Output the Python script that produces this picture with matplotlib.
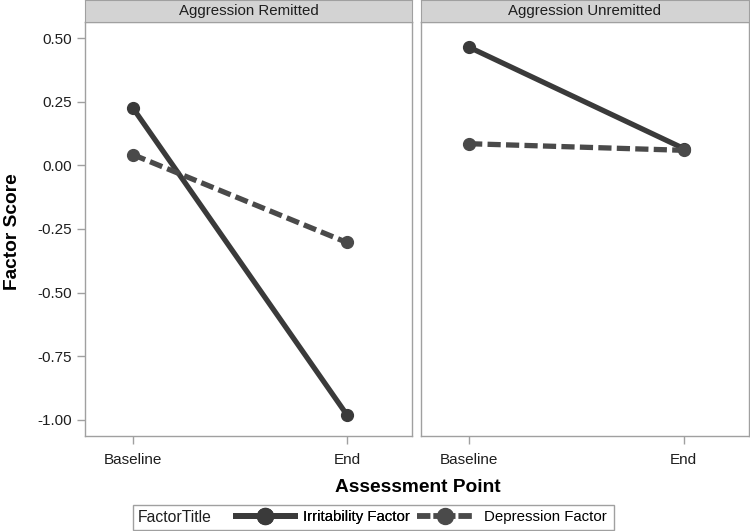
import matplotlib
matplotlib.use("Agg")
import matplotlib.pyplot as plt
from matplotlib.lines import Line2D
from matplotlib.patches import Rectangle

plt.rcParams['font.family'] = ['Liberation Sans', 'DejaVu Sans']

panels = ["Aggression Remitted", "Aggression Unremitted"]
points = ["Baseline", "End"]
irritability = [[0.225, -0.98], [0.464, 0.066]]
depression = [[0.042, -0.303], [0.085, 0.059]]
yticks = [0.50, 0.25, 0.00, -0.25, -0.50, -0.75, -1.00]
factor_title = "FactorTitle"
factor_names = ["Irritability Factor", "Depression Factor"]

W, H = 750, 531
fig = plt.figure(figsize=(7.5, 5.31), dpi=100)

def fr(x0, y0, x1, y1):
    return [x0 / W, (H - y1) / H, (x1 - x0) / W, (y1 - y0) / H]

frame_col = '#a0a0a0'
text_col = '#1e1e1e'
line_col = '#3a3a3a'
dep_col = '#4a4a4a'
dash = (0, (2.5, 1.0))
panel_x = [(85, 412), (421, 749)]
for i, (x0, x1) in enumerate(panel_x):
    ax = fig.add_axes(fr(x0, 22, x1, 436))
    xs = list(range(len(points)))
    ax.plot(xs, irritability[i], color=line_col, lw=3.8, marker='o', ms=8.5,
            solid_capstyle='butt')
    ax.plot(xs, depression[i], color=dep_col, lw=3.8, marker='o', ms=8.5,
            linestyle=dash)
    ax.set_xlim(-0.224, 1.304)
    ax.set_ylim(-1.063, 0.563)
    ax.set_xticks(xs)
    ax.set_xticklabels(points)
    for s in ax.spines.values():
        s.set_color(frame_col)
        s.set_linewidth(1.0)
    ax.tick_params(axis='both', colors=frame_col, labelcolor=text_col,
                   length=6, width=1, labelsize=11)
    ax.tick_params(axis='x', pad=6)
    ax.tick_params(axis='y', pad=3.5)
    if i == 0:
        ax.set_yticks(yticks)
        ax.set_yticklabels([f"{v:.2f}" for v in yticks])
    else:
        ax.set_yticks([])
    # strip
    sax = fig.add_axes(fr(x0, 0, x1, 22))
    sax.set_xticks([]); sax.set_yticks([])
    sax.set_facecolor('#d3d3d3')
    for s in sax.spines.values():
        s.set_color(frame_col)
    sax.text(0.5, 0.5, panels[i], ha='center', va='center', fontsize=10.8,
             color=text_col, transform=sax.transAxes)

fig.text(13 / W, 1 - 232 / H, "Factor Score", rotation=90, ha='center',
         va='center', fontsize=13.8, fontweight='bold', color='black')
fig.text(418 / W, 1 - 487 / H, "Assessment Point", ha='center', va='center',
         fontsize=13.8, fontweight='bold', color='black')

# legend box
fig.patches.append(Rectangle((133 / W, 1 - 530 / H), (614 - 133) / W, 25 / H,
                             transform=fig.transFigure, fill=False,
                             edgecolor=frame_col, lw=1))
fig.text(138 / W, 1 - 517 / H, factor_title, ha='left', va='center',
         fontsize=11.3, color=text_col)
h1 = Line2D([], [], color=line_col, lw=4.2, marker='o', ms=11.5,
            solid_capstyle='butt')
h2 = Line2D([], [], color=dep_col, lw=4.2, marker='o', ms=11.5,
            linestyle=(0, (2.3, 0.5, 3.8, 0.5, 2.3, 10)), dash_capstyle='butt')
leg1 = fig.legend([h1], [factor_names[0]], frameon=False, loc='center left',
                  bbox_to_anchor=(233 / W, 1 - 517 / H), fontsize=10.8,
                  handlelength=4.3, handletextpad=0.35,
                  borderpad=0, borderaxespad=0)
fig.add_artist(leg1)
leg2 = fig.legend([h2], [factor_names[1]], frameon=False, loc='center left',
                  bbox_to_anchor=(417 / W, 1 - 517 / H), fontsize=10.8,
                  handlelength=3.7, handletextpad=0.75,
                  borderpad=0, borderaxespad=0)

fig.savefig("out.png", dpi=100)
